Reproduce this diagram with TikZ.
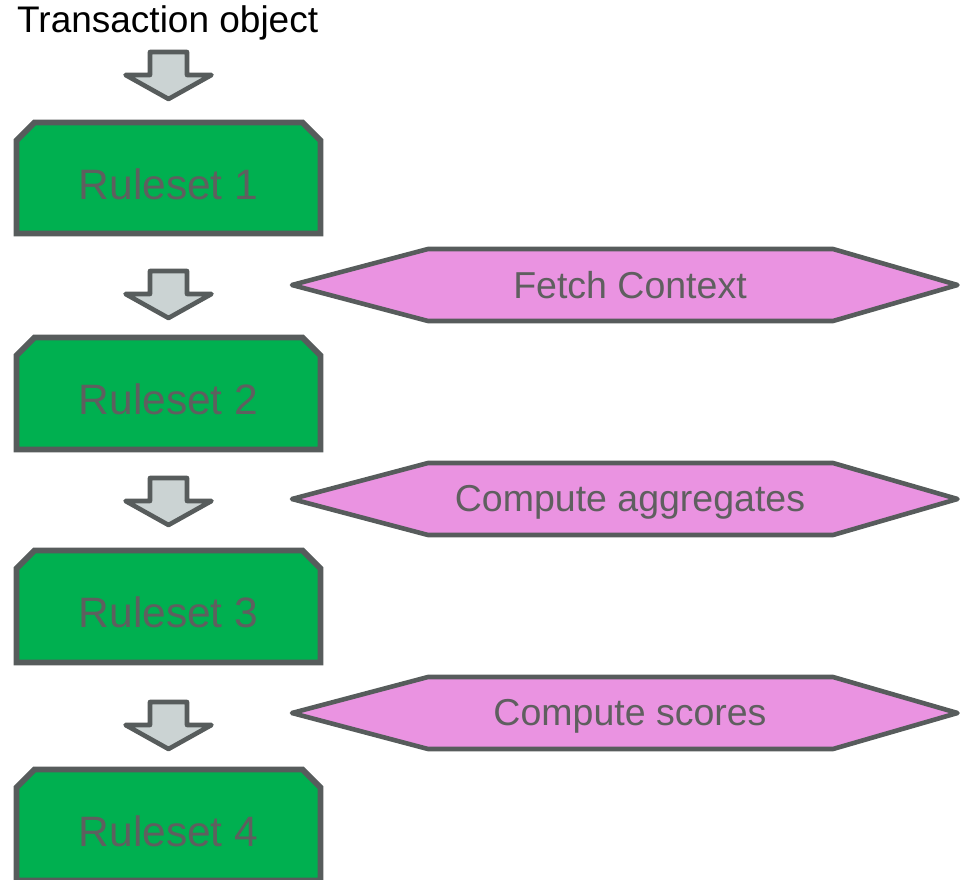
\documentclass[tikz,border=0pt]{standalone}
\usepackage{fontspec}
\setmainfont{Liberation Sans}
\definecolor{rsgreen}{HTML}{00B050}
\definecolor{edgegray}{HTML}{575C5C}
\definecolor{txtgray}{HTML}{5F5F5F}
\definecolor{stagepink}{HTML}{EA93E1}
\definecolor{flowfill}{HTML}{CBD3D3}
\begin{document}
\begin{tikzpicture}[x=1pt, y=-1pt,
  rulebox/.style={draw=edgegray, line width=5.7pt, fill=rsgreen, line join=miter},
  ruletxt/.style={text=txtgray, font=\fontsize{42.5}{48}\selectfont, anchor=base, inner sep=0pt},
  stage/.style={draw=edgegray, line width=4.6pt, fill=stagepink, line join=round},
  stagetxt/.style={text=txtgray, font=\fontsize{37.5}{42}\selectfont, anchor=base, inner sep=0pt},
  flow/.style={draw=edgegray, line width=4.6pt, fill=flowfill, line join=round}
]
\useasboundingbox (0,0) rectangle (961,880);
\node[font=\fontsize{37}{42}\selectfont, anchor=base west, inner sep=0pt] (txn) at (17,33) {Transaction object};
% down arrows
\draw[flow, shift={(0,52)}] (150,0) -- (187,0) -- (187,23) -- (211.5,23) -- (168.5,47) -- (125.5,23) -- (150,23) -- cycle;
\draw[flow, shift={(0,271)}] (150,0) -- (187,0) -- (187,23) -- (211.5,23) -- (168.5,47) -- (125.5,23) -- (150,23) -- cycle;
\draw[flow, shift={(0,478)}] (150,0) -- (187,0) -- (187,23) -- (211.5,23) -- (168.5,47) -- (125.5,23) -- (150,23) -- cycle;
\draw[flow, shift={(0,702)}] (150,0) -- (187,0) -- (187,23) -- (211.5,23) -- (168.5,47) -- (125.5,23) -- (150,23) -- cycle;
% rulesets
\draw[rulebox, shift={(0,122.5)}] (16.5,18) -- (34.5,0) -- (302.5,0) -- (320.5,18) -- (320.5,111) -- (16.5,111) -- cycle;
\draw[rulebox, shift={(0,337.5)}] (16.5,18) -- (34.5,0) -- (302.5,0) -- (320.5,18) -- (320.5,112) -- (16.5,112) -- cycle;
\draw[rulebox, shift={(0,550.5)}] (16.5,18) -- (34.5,0) -- (302.5,0) -- (320.5,18) -- (320.5,112) -- (16.5,112) -- cycle;
\draw[rulebox, shift={(0,769.5)}] (16.5,18) -- (34.5,0) -- (302.5,0) -- (320.5,18) -- (320.5,111) -- (16.5,111) -- cycle;
\node[ruletxt] (rs1) at (168.5,199.5) {Ruleset 1};
\node[ruletxt] (rs2) at (168.5,414.5) {Ruleset 2};
\node[ruletxt] (rs3) at (168.5,627.5) {Ruleset 3};
\node[ruletxt] (rs4) at (168.5,846) {Ruleset 4};
% stages
\draw[stage, shift={(0,285)}] (292,0) -- (428,-36) -- (833,-36) -- (957.5,0) -- (833,36) -- (428,36) -- cycle;
\draw[stage, shift={(0,499)}] (292,0) -- (428,-36) -- (833,-36) -- (957.5,0) -- (833,36) -- (428,36) -- cycle;
\draw[stage, shift={(0,713)}] (292,0) -- (428,-36) -- (833,-36) -- (957.5,0) -- (833,36) -- (428,36) -- cycle;
\node[stagetxt] (fetch) at (630,298) {Fetch Context};
\node[stagetxt] (aggr) at (630,511) {Compute aggregates};
\node[stagetxt] (score) at (630,725) {Compute scores};
\end{tikzpicture}
\end{document}
